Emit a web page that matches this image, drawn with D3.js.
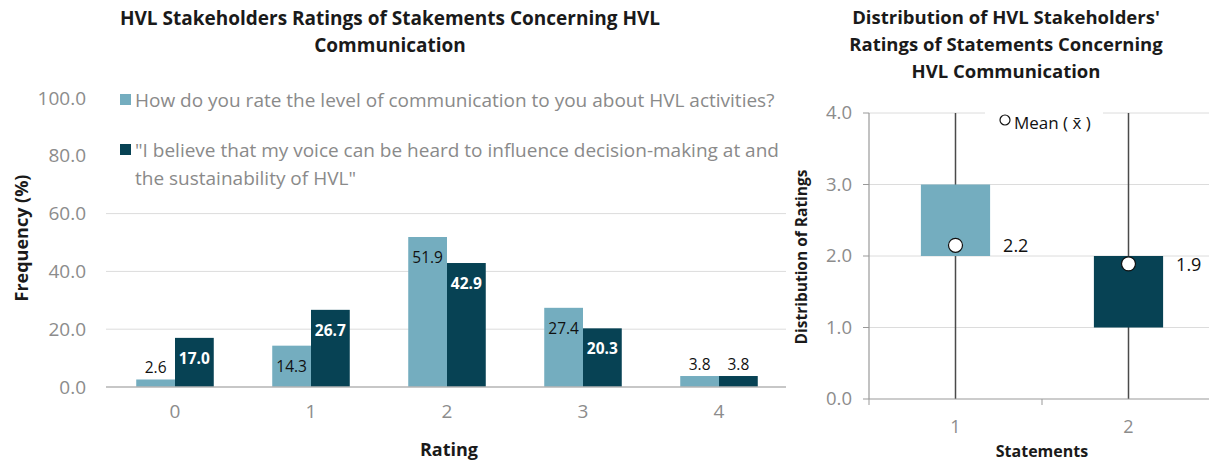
<!DOCTYPE html>
<html lang="en">
<head>
<meta charset="utf-8">
<script src="https://d3js.org/d3.v7.min.js"></script>
<style>
  body { margin: 0; background: #fff; font-family: "Open Sans", sans-serif; }
  .title { font-weight: bold; fill: #1a1a1a; }
  .tick-lbl { fill: #8c8c8c; }
  .axis-title { font-weight: bold; fill: #1a1a1a; }
</style>
</head>
<body>
<svg width="1209" height="463"></svg>
<script>
// ---- data: left chart (frequency %)
var ratings = ["0", "1", "2", "3", "4"];
var seriesNames = [
  "How do you rate the level of communication to you about HVL activities?",
  "\"I believe that my voice can be heard to influence decision-making at and|the sustainability of HVL\""
];
var commLevel = [2.6, 14.3, 51.9, 27.4, 3.8];
var voiceHeard = [17.0, 26.7, 42.9, 20.3, 3.8];
var freqTicks = [0, 20, 40, 60, 80, 100];

// ---- data: right chart (distribution of ratings)
var statements = ["1", "2"];
var boxMin = [0, 0];
var boxQ1 = [2, 1];
var boxQ3 = [3, 2];
var boxMax = [4, 4];
var means = [2.15, 1.89];
var meanLabels = ["2.2", "1.9"];
var distTicks = [0, 1, 2, 3, 4];

var light = "#74adbf", dark = "#074254";

var svg = d3.select("svg");

// ================= left chart =================
var x = d3.scaleBand().domain(ratings).range([107, 787]).paddingInner(0.43).paddingOuter(0.215);
var xs = d3.scaleBand().domain([0, 1]).range([0, x.bandwidth()]);
var y = d3.scaleLinear().domain([0, 100]).range([387, 98]);

var left = svg.append("g");

left.selectAll(".grid").data(freqTicks.slice(1)).enter().append("line")
    .attr("x1", 106).attr("x2", 786)
    .attr("y1", function(d) { return y(d); }).attr("y2", function(d) { return y(d); })
    .attr("stroke", "#dcdcdc").attr("stroke-width", 1);

left.selectAll(".ylbl").data(freqTicks).enter().append("text")
    .attr("class", "tick-lbl")
    .attr("x", 86).attr("y", function(d) { return y(d); })
    .attr("dy", "0.35em").attr("text-anchor", "end")
    .style("font-size", "19px")
    .text(function(d) { return d3.format(".1f")(d); });

var rows = ratings.map(function(r, i) { return { r: r, vals: [commLevel[i], voiceHeard[i]] }; });

var groups = left.selectAll(".grp").data(rows).enter().append("g")
    .attr("transform", function(d) { return "translate(" + x(d.r) + ",0)"; });

var bars = groups.selectAll("g").data(function(d) { return d.vals.map(function(v, k) { return { v: v, k: k }; }); })
    .enter().append("g");

bars.append("rect")
    .attr("x", function(d) { return xs(d.k); })
    .attr("width", xs.bandwidth())
    .attr("y", function(d) { return y(d.v); })
    .attr("height", function(d) { return y(0) - y(d.v); })
    .attr("fill", function(d) { return d.k === 0 ? light : dark; });

bars.append("text")
    .attr("x", function(d) { return xs(d.k) + xs.bandwidth() / 2; })
    .attr("y", function(d) {
      var h = y(0) - y(d.v);
      return h < 30 ? y(d.v) - 6 : y(d.v) + 26;
    })
    .attr("text-anchor", "middle")
    .style("font-size", "15.5px")
    .style("font-weight", function(d) { return d.k === 1 && y(0) - y(d.v) >= 30 ? "bold" : "normal"; })
    .attr("fill", function(d) { return d.k === 1 && y(0) - y(d.v) >= 30 ? "#fff" : "#111"; })
    .text(function(d) { return d3.format(".1f")(d.v); });

left.append("line")
    .attr("x1", 106).attr("x2", 786).attr("y1", y(0)).attr("y2", y(0))
    .attr("stroke", "#b5b5b5").attr("stroke-width", 1.5);

left.selectAll(".xlbl").data(ratings).enter().append("text")
    .attr("class", "tick-lbl")
    .attr("x", function(d) { return x(d) + x.bandwidth() / 2; })
    .attr("y", 418).attr("text-anchor", "middle")
    .style("font-size", "19px")
    .text(function(d) { return d; });

// legend
var leg = left.append("g");
leg.append("rect").attr("x", 106).attr("y", 84).attr("width", 680).attr("height", 110).attr("fill", "#fff");
var legItems = leg.selectAll(".li").data(seriesNames).enter().append("g")
    .attr("transform", function(d, i) { return "translate(120," + (i === 0 ? 100 : 150) + ")"; });
legItems.append("rect").attr("x", 0).attr("y", -6).attr("width", 11).attr("height", 11)
    .attr("fill", function(d, i) { return i === 0 ? light : dark; });
legItems.append("text")
    .attr("fill", "#8a8a8a").style("font-size", "19px")
    .selectAll("tspan").data(function(d) { return d.split("|"); }).enter().append("tspan")
    .attr("x", 15).attr("y", function(d, j) { return 7 + j * 28; })
    .text(function(d) { return d; });

svg.append("text").attr("class", "title").attr("x", 390).attr("y", 25)
    .attr("text-anchor", "middle").style("font-size", "19px")
    .text("HVL Stakeholders Ratings of Stakements Concerning HVL");
svg.append("text").attr("class", "title").attr("x", 390).attr("y", 52)
    .attr("text-anchor", "middle").style("font-size", "19px")
    .text("Communication");

svg.append("text").attr("class", "axis-title")
    .attr("transform", "translate(28,238) rotate(-90)")
    .attr("text-anchor", "middle").style("font-size", "18px")
    .text("Frequency (%)");
svg.append("text").attr("class", "axis-title")
    .attr("x", 449).attr("y", 456).attr("text-anchor", "middle").style("font-size", "18px")
    .text("Rating");

// ================= right chart =================
var x2 = d3.scaleBand().domain(statements).range([869, 1215]).paddingInner(0.6).paddingOuter(0.3);
var y2 = d3.scaleLinear().domain([0, 4]).range([399, 113]);
var right = svg.append("g");

right.selectAll(".grid2").data(distTicks.slice(1)).enter().append("line")
    .attr("x1", 869).attr("x2", 1209)
    .attr("y1", function(d) { return y2(d); }).attr("y2", function(d) { return y2(d); })
    .attr("stroke", "#dcdcdc").attr("stroke-width", 1);

right.selectAll(".ytick2").data(distTicks).enter().append("line")
    .attr("x1", 863).attr("x2", 869)
    .attr("y1", function(d) { return y2(d); }).attr("y2", function(d) { return y2(d); })
    .attr("stroke", "#999");

right.selectAll(".ylbl2").data(distTicks).enter().append("text")
    .attr("class", "tick-lbl")
    .attr("x", 852).attr("y", function(d) { return y2(d); })
    .attr("dy", "0.35em").attr("text-anchor", "end").style("font-size", "18.5px")
    .text(function(d) { return d3.format(".1f")(d); });

var boxes = statements.map(function(s, i) {
  return { s: s, min: boxMin[i], q1: boxQ1[i], q3: boxQ3[i], max: boxMax[i], mean: means[i], lbl: meanLabels[i], i: i };
});

// legend box (white behind, covering grid line)
right.append("rect").attr("x", 985).attr("y", 104).attr("width", 118).attr("height", 30).attr("fill", "#fff");

var bx = right.selectAll(".box").data(boxes).enter().append("g");
bx.append("line")
    .attr("x1", function(d) { return x2(d.s) + x2.bandwidth() / 2; })
    .attr("x2", function(d) { return x2(d.s) + x2.bandwidth() / 2; })
    .attr("y1", function(d) { return y2(d.min); }).attr("y2", function(d) { return y2(d.max); })
    .attr("stroke", "#4a4a4a").attr("stroke-width", 1.5);
bx.append("rect")
    .attr("x", function(d) { return x2(d.s); }).attr("width", x2.bandwidth())
    .attr("y", function(d) { return y2(d.q3); })
    .attr("height", function(d) { return y2(d.q1) - y2(d.q3); })
    .attr("fill", function(d) { return d.i === 0 ? light : dark; });
bx.append("circle")
    .attr("cx", function(d) { return x2(d.s) + x2.bandwidth() / 2; })
    .attr("cy", function(d) { return y2(d.mean); })
    .attr("r", 7).attr("fill", "#fff").attr("stroke", "#111").attr("stroke-width", 1.2);
bx.append("text")
    .attr("x", function(d) { return x2(d.s) + x2.bandwidth() + 13; })
    .attr("y", function(d) { return y2(d.mean); })
    .attr("dy", "0.4em").style("font-size", "18px").attr("fill", "#111")
    .text(function(d) { return d.lbl; });

// axes lines
right.append("line").attr("x1", 869).attr("x2", 869).attr("y1", y2(4)).attr("y2", y2(0))
    .attr("stroke", "#999").attr("stroke-width", 1.2);
right.append("line").attr("x1", 869).attr("x2", 1209).attr("y1", y2(0)).attr("y2", y2(0))
    .attr("stroke", "#999").attr("stroke-width", 1.2);
right.selectAll(".xtick2").data([869, 869 + x2.step()]).enter().append("line")
    .attr("x1", function(d) { return d; }).attr("x2", function(d) { return d; })
    .attr("y1", y2(0)).attr("y2", y2(0) + 6).attr("stroke", "#999");

right.selectAll(".xlbl2").data(statements).enter().append("text")
    .attr("class", "tick-lbl")
    .attr("x", function(d) { return x2(d) + x2.bandwidth() / 2; })
    .attr("y", 433).attr("text-anchor", "middle").style("font-size", "18px")
    .text(function(d) { return d; });

// mean legend
right.append("circle").attr("cx", 1005).attr("cy", 120).attr("r", 5)
    .attr("fill", "#fff").attr("stroke", "#111").attr("stroke-width", 1.2);
right.append("text").attr("x", 1014).attr("y", 129).style("font-size", "17px").attr("fill", "#111")
    .text("Mean ( x\u0304 )");

var t2 = ["Distribution of HVL Stakeholders'", "Ratings of Statements Concerning", "HVL Communication"];
svg.selectAll(".t2").data(t2).enter().append("text").attr("class", "title")
    .attr("x", 1006).attr("y", function(d, i) { return 24 + i * 27; })
    .attr("text-anchor", "middle").style("font-size", "18.5px")
    .text(function(d) { return d; });

svg.append("text").attr("class", "axis-title")
    .attr("transform", "translate(807,257) rotate(-90)")
    .attr("text-anchor", "middle").style("font-size", "15.5px")
    .text("Distribution of Ratings");
svg.append("text").attr("class", "axis-title")
    .attr("x", 1042).attr("y", 457).attr("text-anchor", "middle").style("font-size", "16px")
    .text("Statements");
</script>
</body>
</html>
